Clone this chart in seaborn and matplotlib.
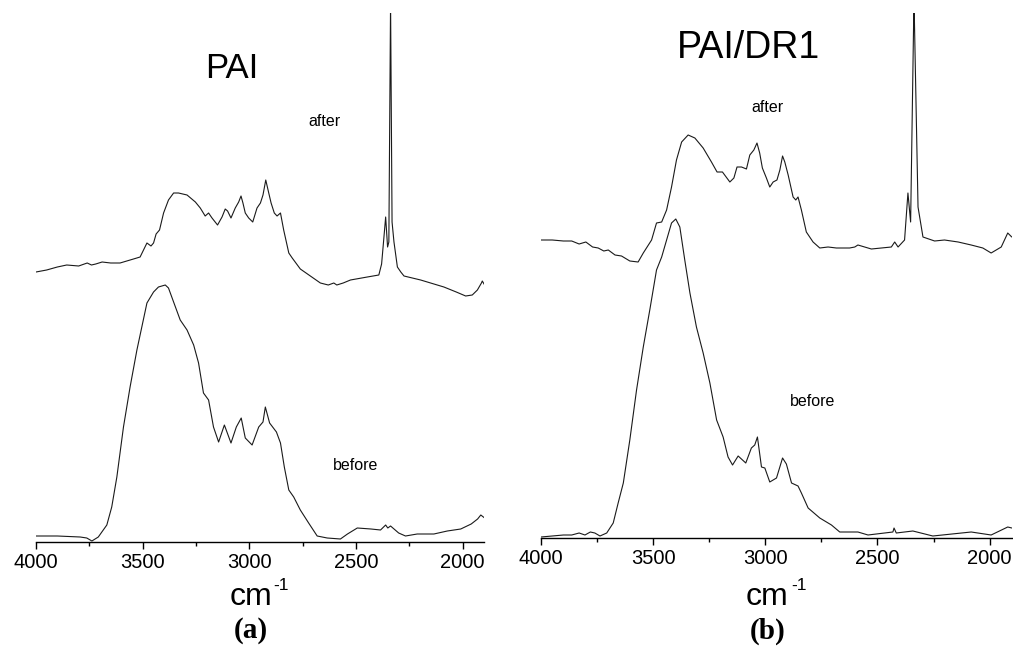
import numpy as np
import pandas as pd
import matplotlib
matplotlib.use("Agg")
import matplotlib.pyplot as plt
from matplotlib.ticker import MultipleLocator
import seaborn as sns

# ---------------- data (arbitrary absorbance units) ----------------
a_after_wn = [4000, 3950, 3900, 3856, 3800, 3760, 3740, 3720, 3690, 3650, 3606, 3543, 3512, 3496,
              3480, 3461, 3449, 3437, 3421, 3402, 3379, 3355, 3332, 3292, 3253, 3230, 3207, 3191,
              3175, 3149, 3128, 3113, 3102, 3086, 3066, 3050, 3039, 3030, 3019, 3003, 2984, 2964,
              2948, 2936, 2923, 2909, 2898, 2883, 2870, 2854, 2839, 2815, 2799, 2761, 2714, 2667,
              2630, 2604, 2590, 2560, 2526, 2447, 2393, 2380, 2371, 2361, 2352, 2346, 2338, 2331,
              2322, 2306, 2290, 2275, 2197, 2088, 2030, 1986, 1955, 1931, 1912, 1908, 1897]
a_after_ab = [270, 272, 275, 277, 276, 279, 277, 278, 280, 279, 279, 283, 285, 292,
              299, 296, 299, 308, 312, 329, 342, 349, 349, 347, 340, 334, 326, 329,
              324, 317, 325, 333, 331, 324, 334, 340, 346, 339, 329, 324, 320, 334,
              339, 347, 362, 349, 339, 329, 326, 329, 312, 289, 284, 273, 266, 259,
              257, 259, 257, 259, 262, 265, 267, 278, 300, 325, 295, 300, 540, 320,
              300, 275, 270, 266, 262, 255, 250, 246, 247, 252, 259, 261, 257]

a_before_wn = [4000, 3900, 3793, 3762, 3738, 3708, 3668, 3645, 3621, 3590, 3559, 3527, 3504, 3480,
               3449, 3426, 3394, 3379, 3355, 3324, 3292, 3261, 3238, 3215, 3191, 3168, 3144, 3117,
               3086, 3061, 3038, 3019, 2987, 2956, 2936, 2925, 2905, 2873, 2854, 2836, 2815, 2792,
               2761, 2722, 2682, 2635, 2573, 2540, 2494, 2430, 2385, 2361, 2351, 2338, 2300, 2268,
               2213, 2135, 2072, 2009, 1960, 1930, 1915, 1897]
a_before_ab = [6, 6, 5, 4, 1, 5, 17, 35, 65, 115, 155, 192, 215, 239,
               250, 255, 257, 254, 240, 222, 212, 197, 179, 149, 142, 115, 100, 117,
               99, 115, 124, 104, 97, 115, 120, 135, 119, 110, 99, 75, 52, 45,
               32, 19, 6, 4, 3, 8, 14, 13, 12, 17, 14, 16, 9, 6,
               8, 8, 11, 13, 18, 23, 27, 24]

b_after_wn = [4000, 3950, 3900, 3863, 3830, 3800, 3770, 3745, 3720, 3700, 3670, 3641, 3604, 3567,
              3544, 3507, 3485, 3462, 3440, 3418, 3396, 3373, 3344, 3314, 3277, 3240, 3215, 3191,
              3158, 3140, 3126, 3106, 3084, 3069, 3051, 3037, 3025, 3013, 2995, 2980, 2965, 2948,
              2935, 2923, 2913, 2898, 2876, 2864, 2854, 2839, 2817, 2787, 2757, 2720, 2683, 2624,
              2601, 2587, 2527, 2438, 2423, 2408, 2379, 2364, 2352, 2337, 2319, 2297, 2245, 2201,
              2140, 2082, 2030, 1993, 1948, 1919, 1901]
b_after_ab = [298, 298, 297, 297, 294, 296, 291, 290, 287, 288, 283, 282, 277, 276,
              285, 298, 315, 316, 328, 351, 378, 396, 403, 400, 390, 376, 366, 366,
              356, 360, 371, 371, 369, 383, 388, 395, 385, 370, 360, 351, 356, 358,
              368, 382, 376, 363, 341, 338, 341, 328, 306, 296, 290, 291, 290, 290,
              291, 293, 289, 291, 296, 291, 298, 345, 316, 540, 331, 301, 297, 298,
              296, 293, 290, 285, 291, 305, 301]

b_before_wn = [4000, 3950, 3900, 3863, 3830, 3804, 3780, 3760, 3737, 3707, 3678, 3656, 3633, 3604,
               3574, 3544, 3515, 3485, 3462, 3440, 3418, 3399, 3381, 3359, 3336, 3307, 3277, 3247,
               3217, 3188, 3166, 3146, 3121, 3087, 3062, 3047, 3035, 3017, 3002, 2980, 2950, 2923,
               2906, 2883, 2854, 2839, 2809, 2757, 2705, 2668, 2587, 2542, 2431, 2426, 2416, 2342,
               2253, 2082, 1993, 1919, 1901]
b_before_ab = [1, 2, 3, 3, 5, 3, 6, 5, 2, 5, 15, 35, 55, 98,
               148, 191, 228, 268, 281, 298, 315, 319, 311, 278, 245, 211, 185, 155,
               118, 101, 81, 73, 82, 75, 90, 93, 101, 71, 70, 56, 60, 80,
               74, 55, 52, 45, 30, 20, 13, 6, 6, 3, 6, 10, 5, 7,
               2, 6, 3, 11, 10]

tick_values = [4000, 3500, 3000, 2500, 2000]

# ---------------- styling ----------------
sns.set_style("white")
plt.rcParams["font.family"] = ["Liberation Sans", "DejaVu Sans"]
plt.rcParams["text.color"] = "black"
plt.rcParams["xtick.color"] = "black"

W, H = 1013, 653
fig = plt.figure(figsize=(W / 100, H / 100), dpi=100)


def px_axes(left, right, bottom_y, top_y):
    return fig.add_axes([left / W, (H - bottom_y) / H, (right - left) / W, (bottom_y - top_y) / H])


panels = [
    dict(rect=(36, 484, 542, 13), ytop=529,
         after=(a_after_wn, a_after_ab), before=(a_before_wn, a_before_ab),
         title="PAI", title_size=25, title_pos=(3081, 474),
         after_pos=(2648, 421), before_pos=(2502, 76),
         cm_x=230, sup_x=273, tag="(a)", tag_x=251),
    dict(rect=(541, 1012, 538, 13), ytop=525,
         after=(b_after_wn, b_after_ab), before=(b_before_wn, b_before_ab),
         title="PAI/DR1", title_size=27, title_pos=(3074, 490),
         after_pos=(2991, 431), before_pos=(2787, 137),
         cm_x=746, sup_x=791, tag="(b)", tag_x=768),
]

line_color = "#1a1a1a"
for p in panels:
    ax = px_axes(*p["rect"])
    for key in ("after", "before"):
        wn, ab = p[key]
        df = pd.DataFrame({"wn": wn, "ab": ab})
        sns.lineplot(data=df, x="wn", y="ab", ax=ax, color=line_color, linewidth=0.8,
                     estimator=None, sort=False)
    ax.set_xlim(4000, 1900)
    ax.set_ylim(0, p["ytop"])
    ax.set_xticks(tick_values)
    ax.xaxis.set_minor_locator(MultipleLocator(250))
    ax.set_yticks([])
    ax.set_xlabel("")
    ax.set_ylabel("")
    for s in ("top", "left", "right"):
        ax.spines[s].set_visible(False)
    ax.spines["bottom"].set_color("black")
    ax.spines["bottom"].set_linewidth(1.0)
    ax.tick_params(axis="x", which="major", direction="out", length=5, width=1,
                   labelsize=14.5, pad=3, bottom=True, colors="black")
    ax.tick_params(axis="x", which="minor", direction="out", length=3, width=1,
                   bottom=True, colors="black")
    ax.patch.set_alpha(0)

    ax.text(*p["title_pos"], p["title"], fontsize=p["title_size"], ha="center", va="center")
    ax.text(*p["after_pos"], "after", fontsize=11.5, ha="center", va="center")
    ax.text(*p["before_pos"], "before", fontsize=11.5, ha="center", va="center")

    fig.text(p["cm_x"] / W, 1 - 605 / H, "cm", fontsize=23, ha="left", va="baseline")
    fig.text(p["sup_x"] / W, 1 - 590 / H, "-1", fontsize=12.5, ha="left", va="baseline")
    fig.text(p["tag_x"] / W, 1 - 631 / H, p["tag"], fontsize=21, fontweight="bold",
             family=["Liberation Serif", "DejaVu Serif"], ha="center", va="center")

fig.savefig("out.png", dpi=100)
